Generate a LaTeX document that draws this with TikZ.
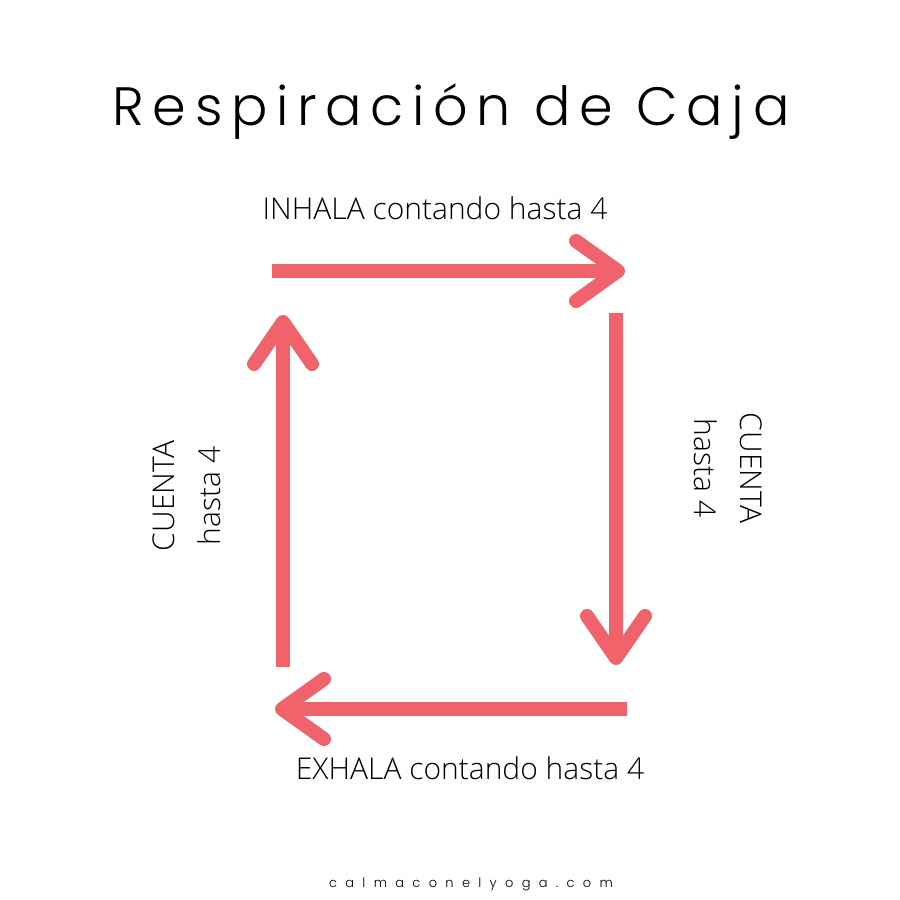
\documentclass[tikz,border=0pt]{standalone}
\usepackage{fontspec}
\IfFontExistsTF{Open Sans Light}{\setmainfont{Open Sans Light}}{\setmainfont{Open Sans}}
\IfFontExistsTF{Poppins Light}{%
  \newfontfamily\titlefont[LetterSpace=16]{Poppins Light}%
  \newfontfamily\footfont[LetterSpace=64]{Poppins Light}}{%
  \newfontfamily\titlefont[LetterSpace=16]{Poppins}%
  \newfontfamily\footfont[LetterSpace=64]{Poppins}}
\definecolor{boxred}{RGB}{240,99,107}
\tikzset{
  shaft/.style={draw=boxred, line width=14pt},
  head/.style={draw=boxred, line width=14pt, line cap=round, line join=round},
  lbl/.style={inner sep=0pt, font=\fontsize{30}{46}\selectfont},
}
\begin{document}
\begin{tikzpicture}[x=1pt,y=-1pt]
\useasboundingbox[fill=white] (0,0) rectangle (900,900);
% title
\node[inner sep=0pt, anchor=base, font=\titlefont\fontsize{54}{60}\selectfont] (title) at (451,125) {Respiración de Caja};
% coordinates
\coordinate (t0) at (272,271); \coordinate (t1) at (618,271);
\coordinate (ta) at (576,241); \coordinate (tb) at (576,301);
\coordinate (r0) at (616,313); \coordinate (r1) at (616,658);
\coordinate (ra) at (587,616); \coordinate (rb) at (645,616);
\coordinate (b0) at (627,709); \coordinate (b1) at (282,709);
\coordinate (ba) at (324,679); \coordinate (bb) at (324,739);
\coordinate (l0) at (283,667); \coordinate (l1) at (283,322);
\coordinate (la) at (254,364); \coordinate (lb) at (312,364);
% arrows
\draw[shaft] (t0) -- (t1);
\draw[head] (ta) -- (t1) -- (tb);
\draw[shaft] (r0) -- (r1);
\draw[head] (ra) -- (r1) -- (rb);
\draw[shaft] (b0) -- (b1);
\draw[head] (ba) -- (b1) -- (bb);
\draw[shaft] (l0) -- (l1);
\draw[head] (la) -- (l1) -- (lb);
% labels
\node[lbl, anchor=base] (inh) at (435,219) {INHALA contando hasta 4};
\node[lbl, anchor=base] (exh) at (470,779) {EXHALA contando hasta 4};
\node[lbl, align=center, rotate=90] (lc) at (187,496) {CUENTA\\hasta 4};
\node[lbl, align=center, rotate=-90] (rc) at (728,468) {CUENTA\\hasta 4};
% footer
\node[inner sep=0pt, anchor=base, font=\footfont\fontsize{13}{15}\selectfont] (foot) at (471,887) {calmaconelyoga.com};
\end{tikzpicture}
\end{document}
